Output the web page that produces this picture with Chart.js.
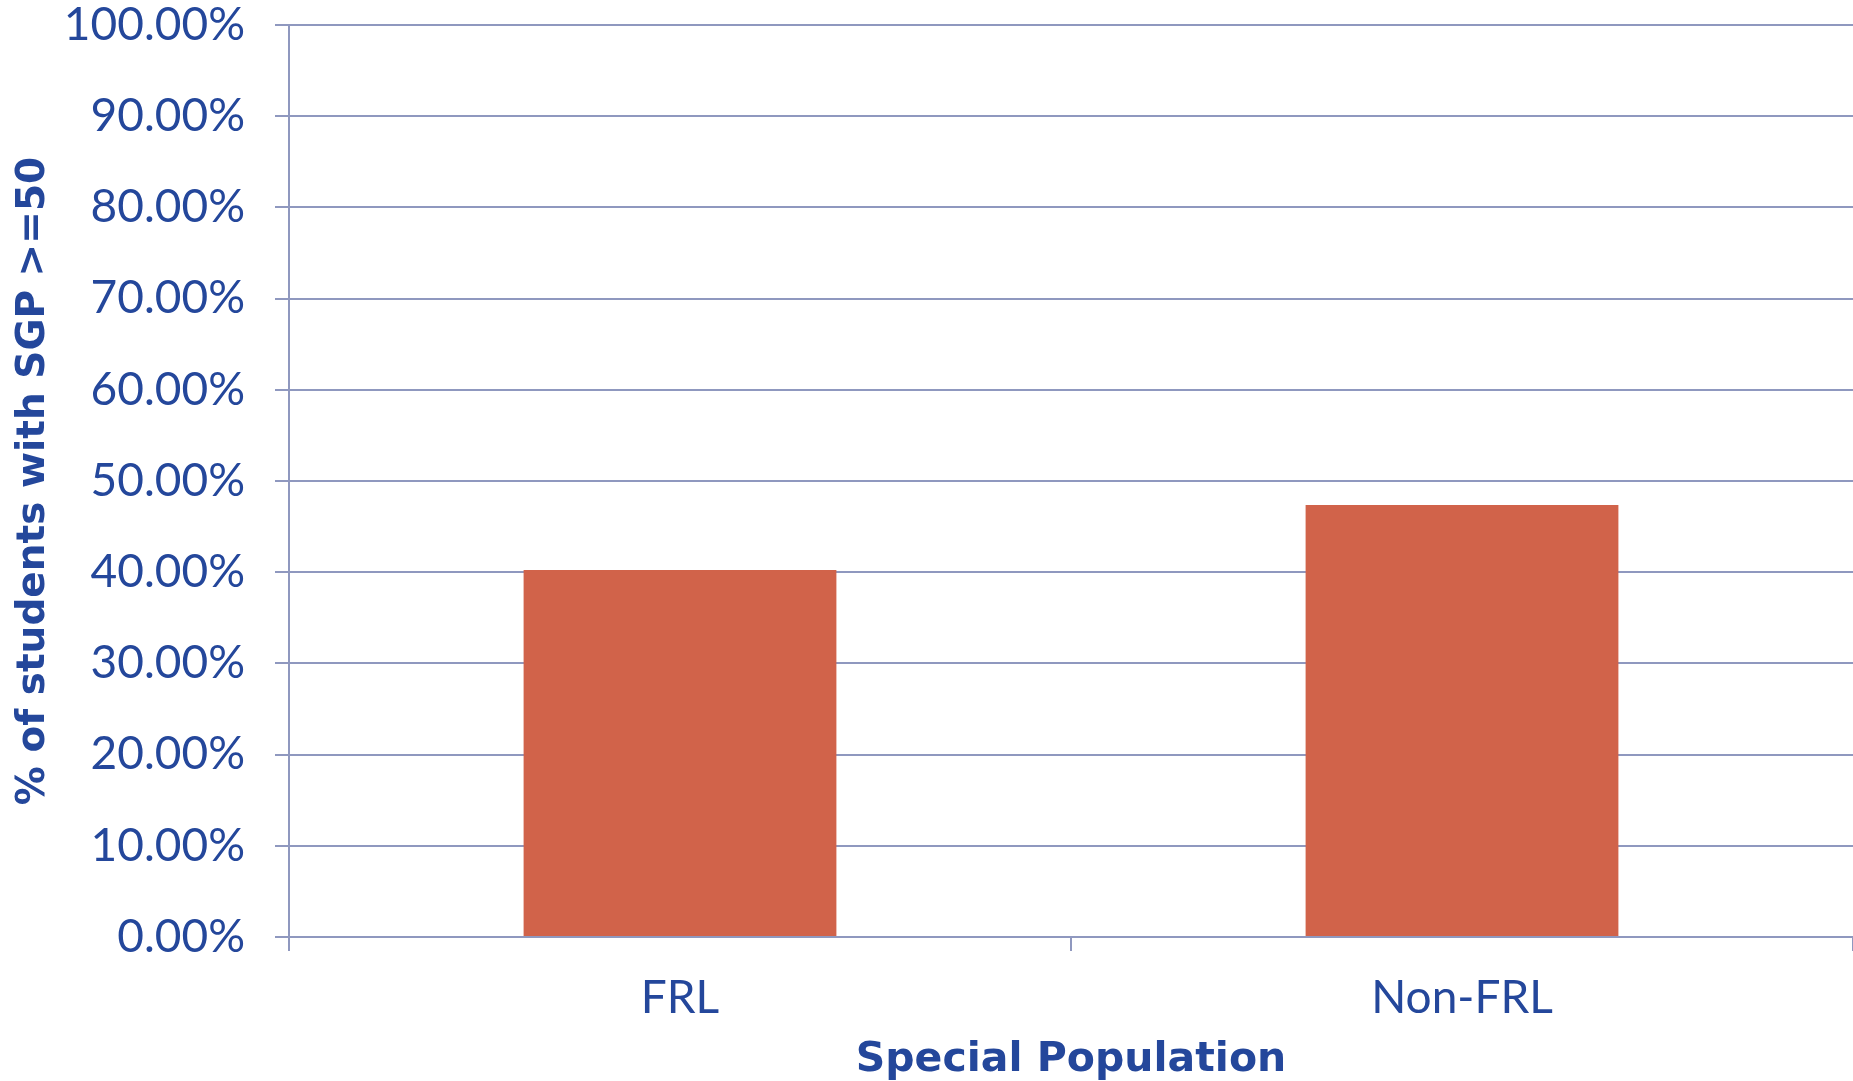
<!DOCTYPE html>
<html>
<head>
<meta charset="utf-8">
<script src="https://cdn.jsdelivr.net/npm/chart.js@4.4.1/dist/chart.umd.min.js"></script>
<style>
    html, body { margin: 0; padding: 0; background: #ffffff; }
    #wrap { width: 1853px; height: 1081px; position: relative; }
</style>
</head>
<body>
<div id="wrap"><canvas id="sgp-chart"></canvas></div>
<script>
// Chart data
const categories = ['FRL', 'Non-FRL'];
const pctAbove50 = [40.25, 47.37];
const yTicks = [0, 10, 20, 30, 40, 50, 60, 70, 80, 90, 100];

const textBlue = '#24479b';
const gridBlue = '#8f98bf';
const barOrange = '#d1634a';
const tickFont = 'Lato, "Open Sans", sans-serif';
const titleFont = '"DejaVu Sans", sans-serif';

/**
 * Build the bar chart
 */
function initSgpChart() {
    const canvas = document.getElementById('sgp-chart');
    if (!canvas) return;

    new Chart(canvas, {
        type: 'bar',
        data: {
            labels: categories,
            datasets: [{
                label: '% of students with SGP >=50',
                data: pctAbove50,
                backgroundColor: barOrange,
                borderWidth: 0,
                barPercentage: 0.4,
                categoryPercentage: 1.0
            }]
        },
        options: {
            responsive: true,
            maintainAspectRatio: false,
            animation: false,
            layout: {
                padding: { top: 25, right: 0, bottom: 0, left: 0 }
            },
            scales: {
                y: {
                    min: 0,
                    max: 100,
                    afterFit: function(scale) {
                        scale.width = 289;
                        // the top label may overhang, like in the original
                        scale.paddingTop = 0;
                        scale.paddingBottom = 0;
                    },
                    afterBuildTicks: function(scale) {
                        scale.ticks = yTicks.map(v => ({ value: v }));
                    },
                    title: {
                        display: true,
                        text: '% of students with SGP >=50',
                        color: textBlue,
                        font: { family: titleFont, size: 39, weight: 'bold' },
                        padding: { top: 10, bottom: 0 }
                    },
                    ticks: {
                        color: textBlue,
                        font: { family: tickFont, size: 46, lineHeight: 1.0 },
                        padding: 30,
                        callback: function(value) {
                            return value.toFixed(2) + '%';
                        }
                    },
                    grid: {
                        color: gridBlue,
                        lineWidth: 2,
                        tickLength: 14
                    },
                    border: {
                        color: gridBlue,
                        width: 2
                    }
                },
                x: {
                    afterFit: function(scale) { scale.height = 144; },
                    title: {
                        display: true,
                        text: 'Special Population',
                        color: textBlue,
                        font: { family: titleFont, size: 41, weight: 'bold', lineHeight: 1.0 },
                        padding: { top: 0, bottom: 0 }
                    },
                    ticks: {
                        color: textBlue,
                        font: { family: tickFont, size: 46 },
                        padding: 20
                    },
                    grid: {
                        offset: true,
                        drawOnChartArea: false,
                        color: gridBlue,
                        lineWidth: 2,
                        tickLength: 14
                    },
                    border: {
                        color: gridBlue,
                        width: 2
                    }
                }
            },
            plugins: {
                legend: { display: false },
                tooltip: { enabled: false }
            }
        }
    });
}

document.addEventListener('DOMContentLoaded', function() {
    initSgpChart();
});
</script>
</body>
</html>
